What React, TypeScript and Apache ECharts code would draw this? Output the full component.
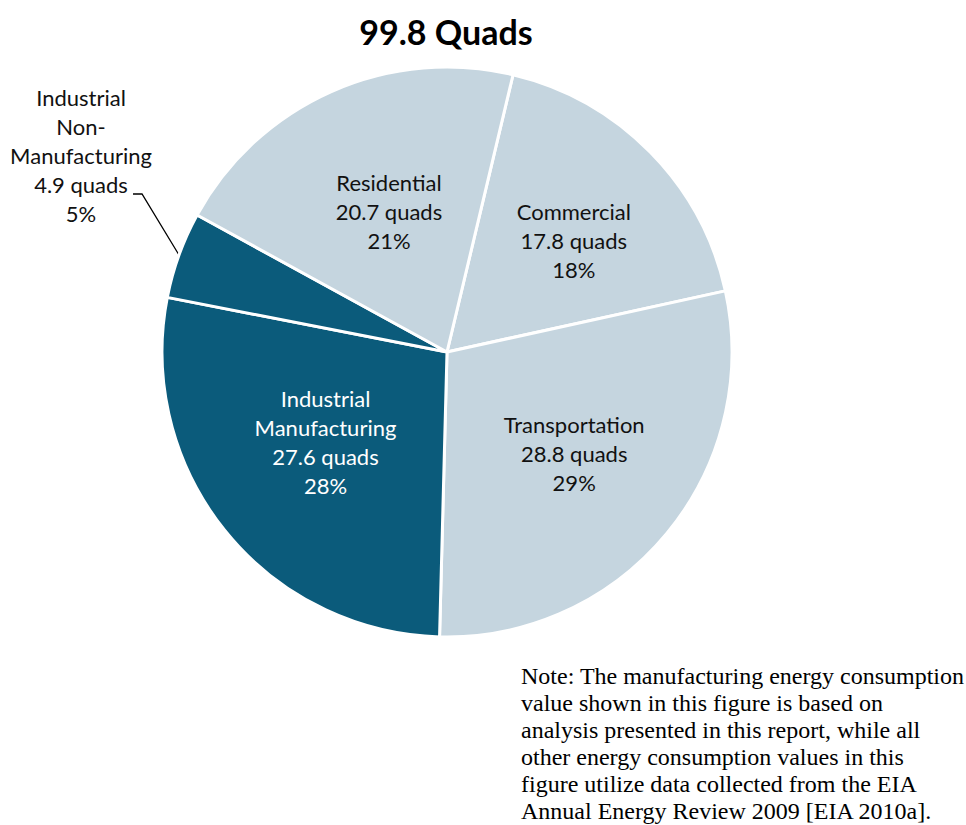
import React, { useEffect, useRef } from "react";
import * as echarts from "echarts";

const categories = ["Commercial", "Transportation", "Industrial Manufacturing", "Industrial Non-Manufacturing", "Residential"];
const labelNames = ["Commercial", "Transportation", "Industrial\nManufacturing", "Industrial\nNon-\nManufacturing", "Residential"];
const values = [17.8, 28.8, 27.6, 4.9, 20.7];
const sliceColors = ["#c5d5df", "#c5d5df", "#0b5b7b", "#0b5b7b", "#c5d5df"];
const labelColors = ["#111111", "#111111", "#ffffff", "#111111", "#111111"];
const titleText = "99.8 Quads";
const noteLines = [
  "Note: The manufacturing energy consumption",
  "value shown in this figure is based on",
  "analysis presented in this report, while all",
  "other energy consumption values in this",
  "figure utilize data collected from the EIA",
  "Annual Energy Review 2009 [EIA 2010a].",
];

// label nudges relative to default inside position
const labelShift = [
  [23, -10],
  [15, 9],
  [-8, -1],
  [0, 0],
  [1, -8],
];

export default function App() {
  const ref = useRef<HTMLDivElement>(null);
  useEffect(() => {
    document.body.style.margin = "0";
    const chart = echarts.init(ref.current!, null, { renderer: "svg" });
    const data = categories.map((name, i) => {
      const item: any = {
        name,
        value: values[i],
        itemStyle: { color: sliceColors[i] },
        label: { color: labelColors[i] },
      };
      if (i === 3) {
        item.label.position = "outside";
        item.labelLine = { show: true, length: 20, length2: 10, lineStyle: { color: "#000", width: 1.3 } };
      }
      return item;
    });
    chart.setOption({
      animation: false,
      backgroundColor: "#ffffff",
      title: {
        text: titleText,
        left: 441,
        top: 9,
        textAlign: "center",
        textStyle: { fontFamily: "Lato", fontWeight: "bold", fontSize: 34, color: "#000" },
      },
      graphic: [
        {
          type: "text",
          left: 521,
          top: 662,
          style: {
            text: noteLines.join("\n"),
            fontFamily: "Liberation Serif",
            fontSize: 24,
            lineHeight: 27,
            fill: "#000",
          },
        },
      ],
      series: [
        {
          type: "pie",
          center: [447, 352],
          radius: 285,
          startAngle: 76.6,
          clockwise: true,
          avoidLabelOverlap: false,
          itemStyle: { borderColor: "#ffffff", borderWidth: 3 },
          label: {
            show: true,
            position: "inside",
            fontFamily: "Lato",
            fontSize: 22,
            lineHeight: 29,
            align: "center",
            formatter: (p: any) =>
              `${labelNames[p.dataIndex]}\n${values[p.dataIndex].toFixed(1)} quads\n${Math.round(p.percent)}%`,
          },
          labelLine: { show: false },
          labelLayout: (p: any) => {
            const r = p.labelRect;
            if (p.dataIndex === 3) {
              const a = p.labelLinePoints ? p.labelLinePoints[0] : [180, 255];
              const elbow = [a[0] - 37, a[1] - 61];
              const end = [elbow[0] - 9, elbow[1]];
              return {
                x: end[0] - 52,
                y: end[1] - 39,
                align: "center",
                verticalAlign: "middle",
                labelLinePoints: [a, elbow, end],
              };
            }
            const s = labelShift[p.dataIndex];
            return {
              x: r.x + r.width / 2 + s[0],
              y: r.y + r.height / 2 + s[1],
              align: "center",
              verticalAlign: "middle",
            };
          },
          emphasis: { disabled: true },
          data,
        },
      ],
    });
    return () => chart.dispose();
  }, []);
  return <div ref={ref} style={{ width: 966, height: 825 }} />;
}
